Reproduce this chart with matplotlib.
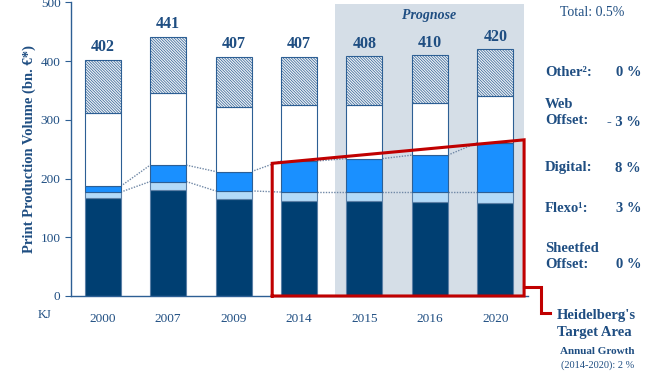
import matplotlib
matplotlib.use("Agg")
import matplotlib.pyplot as plt
import numpy as np

# chart data (bn. EUR)
years = ["2000", "2007", "2009", "2014", "2015", "2016", "2020"]
totals = [402, 441, 407, 407, 408, 410, 420]
sheetfed = [167, 180, 165, 162, 162, 160, 159]
flexo = [10, 15, 14, 15, 15, 17, 18]
digital = [10, 28, 33, 53, 57, 63, 84]
web = [124, 123, 110, 96, 92, 89, 79]
other = [91, 95, 85, 81, 82, 81, 80]

growth_labels = ["Other²:", "Web\nOffset:", "Digital:", "Flexo¹:", "Sheetfed\nOffset:"]
growth_values = ["0 %", "- 3 %", "8 %", "3 %", "0 %"]

# target area corners (2014 -> 2020)
target_left, target_right = 2.59, 6.44
target_low, target_high = 226, 266

navy = "#1f4e82"
dark = "#003f72"
light = "#b3daf8"
bright = "#1a90ff"
grey = "#d5dee7"
red = "#c00000"

plt.rcParams["font.family"] = ["Liberation Serif", "DejaVu Serif"]
plt.rcParams["hatch.color"] = "#4a6f96"
plt.rcParams["hatch.linewidth"] = 0.5

fig = plt.figure(figsize=(6.65, 3.76), dpi=100)
ax = fig.add_axes([0.1068, 0.2128, 0.6872, 0.7806])

x = np.arange(len(years))
w = 0.55
sheetfed = np.array(sheetfed)
flexo = np.array(flexo)
digital = np.array(digital)
web = np.array(web)
other = np.array(other)

ax.axvspan(3.55, 6.44, ymin=0, ymax=497 / 500, color=grey, zorder=0, lw=0)

ec = "#2d5f94"
ax.bar(x, sheetfed, w, color=dark, edgecolor="#5a7fa6", lw=0.8, zorder=2)
b1 = sheetfed
ax.bar(x, flexo, w, bottom=b1, color=light, edgecolor="#5a7fa6", lw=0.8, zorder=2)
b2 = b1 + flexo
ax.bar(x, digital, w, bottom=b2, color=bright, edgecolor=ec, lw=0.8, zorder=2)
b3 = b2 + digital
ax.bar(x, web, w, bottom=b3, color="white", edgecolor=ec, lw=0.8, zorder=2)
b4 = b3 + web
ax.bar(x, other, w, bottom=b4, color="#eef2f6", edgecolor=ec, lw=0.8,
       hatch="\\" * 12, zorder=2)

# dotted connectors between bars
for level in (b2, b3):
    for i in range(len(x) - 1):
        ax.plot([x[i] + w / 2, x[i + 1] - w / 2], [level[i], level[i + 1]],
                ls=(0, (1, 1)), color="#7088a6", lw=1, zorder=1.5)

for xi, t in zip(x, totals):
    ax.text(xi, t + 8, str(t), ha="center", va="bottom", fontsize=11.5,
            fontweight="bold", color=navy)

ax.text(4.99, 489, "Prognose", ha="center", va="top", fontsize=10,
        fontstyle="italic", fontweight="bold", color=navy)

# target area
ax.plot([target_left, target_left, target_right, target_right, target_left],
        [0, target_low, target_high, 0, 0], color=red, lw=2.2, zorder=4,
        clip_on=False, solid_joinstyle="miter")
ax.plot([target_right, 6.70, 6.70, 6.84], [15, 15, -29, -29], color=red,
        lw=2.2, zorder=4, clip_on=False, solid_joinstyle="miter")

ax.set_xlim(-0.485, 6.5)
ax.set_ylim(0, 500)
ax.set_xticks(x)
ax.set_xticklabels(years)
ax.set_yticks([0, 100, 200, 300, 400, 500])
ax.tick_params(axis="x", length=0, pad=12, labelsize=9.5, colors=navy)
ax.tick_params(axis="y", length=4, width=0.8, labelsize=9.5, colors=navy, color=ec)
for s in ("top", "right"):
    ax.spines[s].set_visible(False)
for s in ("left", "bottom"):
    ax.spines[s].set_color(ec)
    ax.spines[s].set_linewidth(1)
ax.set_ylabel("Print Production Volume (bn. €*)", fontsize=10.5,
              fontweight="bold", color=navy, labelpad=3)

fig.text(38 / 665, 1 - 315 / 376, "KJ", fontsize=9, color=navy, va="center")

# growth annotations
fig.text(560 / 665, 1 - 13 / 376, "Total: 0.5%", fontsize=10, color=navy,
         va="center")
label_y = [73, 113, 168, 209, 256]
for ly, lab, val in zip(label_y, growth_labels, growth_values):
    fig.text(545 / 665, 1 - ly / 376, lab, fontsize=10.5, fontweight="bold",
             color=navy, va="center", linespacing=1.3)
    vy = ly + 9 if "\n" in lab else ly
    fig.text(641 / 665, 1 - vy / 376, val, fontsize=10.5, fontweight="bold",
             color=navy, va="center", ha="right")

fig.text(557 / 665, 1 - 324 / 376, "Heidelberg's\nTarget Area", fontsize=10.5,
         fontweight="bold", color=navy, va="center", linespacing=1.35)
fig.text(560 / 665, 1 - 351 / 376, "Annual Growth", fontsize=8,
         fontweight="bold", color=navy, va="center")
fig.text(561 / 665, 1 - 365 / 376, "(2014-2020): 2 %", fontsize=7.5,
         color=navy, va="center")

fig.savefig("out.png", dpi=100)
